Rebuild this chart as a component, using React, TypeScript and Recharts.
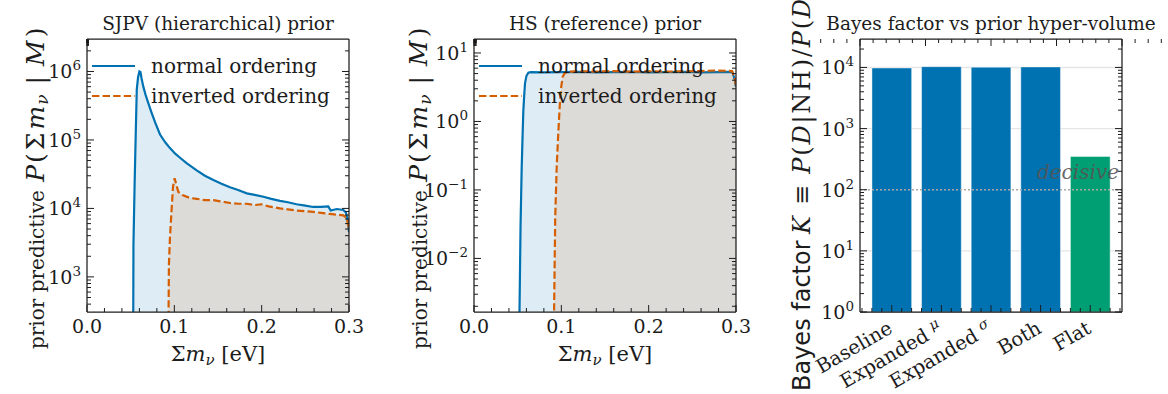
import React from "react";
import { Area, Bar, CartesianGrid, Cell, ComposedChart, Legend, ReferenceLine, XAxis, YAxis } from "recharts";

const SERIF = "'DejaVu Serif', serif";
const SANS = "'DejaVu Sans', sans-serif";
const INK = "#1c1c1c";
const BLUE = "#0072B2";
const ORANGE = "#D55E00";
const GREEN = "#009E73";

// SJPV (hierarchical) prior, x = sum of neutrino masses [eV]
const sjpvNormalX = [0.0528, 0.0532, 0.0545, 0.0558, 0.057, 0.0585, 0.06, 0.0612, 0.0625, 0.0645, 0.067, 0.07, 0.0735, 0.078, 0.0836, 0.09, 0.095, 0.101, 0.1065, 0.114, 0.1256, 0.135, 0.1447, 0.154, 0.1637, 0.173, 0.183, 0.192, 0.202, 0.211, 0.221, 0.23, 0.24, 0.25, 0.259, 0.268, 0.2763, 0.279, 0.286, 0.2935, 0.2965, 0.299, 0.3];
const sjpvNormalY = [60, 3000, 22000, 120000, 550000, 830000, 1000000, 980000, 790000, 600000, 460000, 350000, 260000, 180000, 120000, 91000, 76000, 63000, 55000, 46000, 36000, 30000, 26000, 23000, 20400, 18600, 16600, 15800, 14800, 13800, 12900, 12300, 11500, 11000, 10500, 10500, 10700, 9300, 9800, 9500, 8700, 6300, 4500];
const sjpvInvertedX = [0.093, 0.0938, 0.095, 0.0965, 0.0985, 0.1003, 0.102, 0.1045, 0.11, 0.118, 0.1256, 0.135, 0.1447, 0.154, 0.1637, 0.173, 0.183, 0.192, 0.2, 0.208, 0.221, 0.23, 0.24, 0.25, 0.259, 0.268, 0.278, 0.286, 0.2935, 0.2975, 0.2992, 0.3];
const sjpvInvertedY = [60, 1500, 3800, 8000, 21000, 27500, 23000, 17500, 15500, 14200, 13800, 13200, 13200, 12600, 12000, 11700, 11700, 11200, 11500, 10700, 10000, 9700, 9300, 9100, 8900, 8600, 8300, 8100, 7900, 7200, 5600, 4800];

// HS (reference) prior
const hsNormalX = [0.0517, 0.0521, 0.0533, 0.0546, 0.0556, 0.0565, 0.0575, 0.0584, 0.06, 0.0622, 0.065, 0.08, 0.1, 0.12, 0.14, 0.16, 0.18, 0.2, 0.22, 0.24, 0.26, 0.28, 0.292, 0.296, 0.2985, 0.3];
const hsNormalY = [0.0001, 0.0017, 0.03, 0.21, 0.6, 1.45, 2.4, 3.6, 4.6, 5.15, 5.25, 5.2, 5.25, 5.3, 5.2, 5.25, 5.3, 5.2, 5.25, 5.3, 5.2, 5.25, 5.3, 5.2, 4.1, 3.2];
const hsInvertedX = [0.0913, 0.0917, 0.093, 0.0947, 0.0965, 0.0985, 0.1, 0.1016, 0.104, 0.108, 0.12, 0.14, 0.16, 0.18, 0.2, 0.22, 0.24, 0.26, 0.275, 0.288, 0.2955, 0.2985, 0.3];
const hsInvertedY = [0.0001, 0.0017, 0.04, 0.22, 0.67, 2.0, 3.3, 4.5, 5.1, 5.35, 5.4, 5.35, 5.45, 5.35, 5.4, 5.35, 5.4, 5.45, 5.55, 5.5, 5.45, 4.3, 3.3];

const orderingNames = ["normal ordering", "inverted ordering"];
const orderingColors = [BLUE, ORANGE];
const orderingDash = [undefined, "7.4 3.2"];

// Bayes factor vs prior hyper-volume
const priorNames = ["Baseline", "Expanded", "Expanded", "Both", "Flat"];
const priorSymbols = ["", "μ", "σ", "", ""];
const bayesFactor = [9800, 10300, 10100, 10200, 350];
const barColors = [BLUE, BLUE, BLUE, BLUE, GREEN];
const gridDecades = [1, 10, 1000, 10000];
const decisiveLevel = 100;

const massDomain = [0, 0.3];
const sjpvDomain = [307, 2.98e6];
const hsDomain = [1.65e-3, 16];
const bayesDomain = [1, 2.92e4];
const barPosDomain = [-0.64, 4.64];

const PLOT_W = 262;
const PLOT_TOP = 39;
const PLOT_H = 273;
const CHART_H = 394;
const frame = { stroke: INK, strokeWidth: 1.25 };

function logTicks([lo, hi]: number[]) {
  const out: number[] = [];
  for (let e = Math.floor(Math.log10(lo)); e <= Math.ceil(Math.log10(hi)); e++) {
    for (let k = 1; k < 10; k++) {
      const v = k * Math.pow(10, e);
      if (v >= lo * 0.9999 && v <= hi * 1.0001) out.push(v);
    }
  }
  return out;
}

function linTicks(lo: number, hi: number, step: number) {
  const out: number[] = [];
  for (let v = lo; v <= hi + 1e-9; v += step) out.push(Math.round(v * 1000) / 1000);
  return out;
}

function mergeSeries(nx: number[], ny: number[], ix: number[], iy: number[]) {
  const xs = Array.from(new Set([...nx, ...ix])).sort((a, b) => a - b);
  const n = new Map(nx.map((x, i) => [x, ny[i]]));
  const inv = new Map(ix.map((x, i) => [x, iy[i]]));
  return xs.map((m) => ({ m, no: n.get(m) ?? null, io: inv.get(m) ?? null }));
}

const isDecade = (v: number) => Math.abs(Math.log10(v) - Math.round(Math.log10(v))) < 1e-6;
const isStep = (v: number, step: number) => Math.abs(v / step - Math.round(v / step)) < 1e-6;

function decadeLabel(v: number) {
  const e = Math.round(Math.log10(v));
  return e < 0 ? `−${-e}` : `${e}`;
}

const LeftLogTick = (p: any) => {
  const { x, y, payload } = p;
  const major = isDecade(payload.value);
  return (
    <g>
      <line x1={x} x2={x + (major ? 7 : 4)} y1={y} y2={y} stroke={INK} strokeWidth={1} />
      {major && (
        <text x={x - 6} y={y + 7} textAnchor="end" fontFamily={SERIF} fontSize={19} fill={INK}>
          10<tspan dy={-8} fontSize={13.5}>{decadeLabel(payload.value)}</tspan>
        </text>
      )}
    </g>
  );
};

const RightLogTick = (p: any) => {
  const { x, y, payload } = p;
  const major = isDecade(payload.value);
  return <line x1={x - (major ? 7 : 4)} x2={x} y1={y} y2={y} stroke={INK} strokeWidth={1} />;
};

const MassBottomTick = (p: any) => {
  const { x, y, payload } = p;
  const major = isStep(payload.value, 0.1);
  return (
    <g>
      <line x1={x} x2={x} y1={y} y2={y - (major ? 7 : 4)} stroke={INK} strokeWidth={1} />
      {major && (
        <text x={x} y={y + 21} textAnchor="middle" fontFamily={SERIF} fontSize={19} fill={INK}>
          {payload.value.toFixed(1)}
        </text>
      )}
    </g>
  );
};

const TopTick = (p: any) => {
  const { x, y, payload } = p;
  const major = p.majorStep ? isStep(payload.value, p.majorStep) : true;
  return <line x1={x} x2={x} y1={y} y2={y + (major ? 7 : 4)} stroke={INK} strokeWidth={1} />;
};

const PriorBottomTick = (p: any) => {
  const { x, y, payload } = p;
  const i = Math.round(payload.value);
  const major = isStep(payload.value, 1);
  return (
    <g>
      <line x1={x} x2={x} y1={y} y2={y - (major ? 7 : 4)} stroke={INK} strokeWidth={1} />
      {major && (
        <text
          transform={`translate(${x + 2},${y + 20}) rotate(-30)`}
          textAnchor="end"
          fontFamily={SERIF}
          fontSize={19.5}
          fill={INK}
        >
          {priorNames[i]}
          {priorSymbols[i] ? (
            <tspan dx={6} dy={-7} fontSize={14} fontStyle="italic">
              {priorSymbols[i]}
            </tspan>
          ) : null}
        </text>
      )}
    </g>
  );
};

const Title = ({ cx, text }: { cx: number; text: string }) => (
  <text x={cx} y={30} textAnchor="middle" fontFamily={SERIF} fontSize={18.5} fill={INK}>
    {text}
  </text>
);

const MassLabel = ({ cx }: { cx: number }) => (
  <text x={cx} y={361} textAnchor="middle" fontFamily={SERIF} fontSize={21} fill={INK}>
    Σ<tspan fontStyle="italic">m</tspan>
    <tspan fontStyle="italic" fontSize={15} dy={4}>ν</tspan>
    <tspan dy={-4}>{" [eV]"}</tspan>
  </text>
);

const PredictiveLabel = ({ x }: { x: number }) => (
  <text transform={`translate(${x},349) rotate(-90)`} fontFamily={SERIF} fontSize={20} fill={INK}>
    {"prior predictive "}
    <tspan fontStyle="italic" fontSize={25} dx={2}>P</tspan>
    <tspan fontSize={25} dx={2}>(</tspan>
    <tspan fontSize={25} dx={3}>Σ</tspan>
    <tspan fontStyle="italic" fontSize={25} dx={3}>m</tspan>
    <tspan fontStyle="italic" fontSize={17} dx={1} dy={4}>ν</tspan>
    <tspan fontSize={25} dx={10} dy={-4}>|</tspan>
    <tspan fontStyle="italic" fontSize={25} dx={10}>M</tspan>
    <tspan fontSize={25} dx={3}>)</tspan>
  </text>
);

const BayesLabel = ({ x }: { x: number }) => (
  <g>
    <text transform={`translate(${x},391) rotate(-90)`} fontFamily={SANS} fontSize={24} fill={INK}>
      Bayes factor
    </text>
    <text transform={`translate(${x},234) rotate(-90)`} fontFamily={SERIF} fontSize={24} fill={INK} textLength={290} lengthAdjust="spacing">
      <tspan fontStyle="italic">K</tspan>
      {" ≡ "}
      <tspan fontStyle="italic">P</tspan>
      {"("}
      <tspan fontStyle="italic">D</tspan>
      {"|NH)/"}
      <tspan fontStyle="italic">P</tspan>
      {"("}
      <tspan fontStyle="italic">D</tspan>
      {"|IH)"}
    </text>
  </g>
);

const OrderingLegend = () => (
  <svg width={280} height={64} style={{ display: "block", overflow: "visible" }}>
    {orderingNames.map((name, i) => (
      <g key={name}>
        <line x1={0} x2={43} y1={12 + 30 * i} y2={12 + 30 * i} stroke={orderingColors[i]} strokeWidth={2.2} strokeDasharray={orderingDash[i]} />
        <text x={59} y={18.5 + 30 * i} fontFamily={SERIF} fontSize={20} fill={INK}>
          {name}
        </text>
      </g>
    ))}
  </svg>
);

const DecisiveLabel = (p: any) => {
  const vb = p.viewBox || { x: 100, y: 151, width: PLOT_W };
  return (
    <text x={vb.x + vb.width - 3} y={vb.y - 11} textAnchor="end" fontFamily={SERIF} fontStyle="italic" fontSize={20} fill="#555" fillOpacity={0.9}>
      decisive
    </text>
  );
};

// Axes take the whole space around the plot so their lines sit on the frame.
function axisSizes(W: number, plotLeft: number) {
  return {
    left: plotLeft,
    right: W - plotLeft - PLOT_W,
    top: PLOT_TOP,
    bottom: CHART_H - PLOT_TOP - PLOT_H,
  };
}

function PriorPanel({ left, plotLeft, labelX, title, data, domain }: any) {
  const W = 380;
  const s = axisSizes(W, plotLeft);
  const yTicks = logTicks(domain);
  const xTicks = linTicks(0, 0.3, 0.02);
  const cx = plotLeft + PLOT_W / 2;
  return (
    <div style={{ position: "absolute", left, top: 0 }}>
      <ComposedChart width={W} height={CHART_H} data={data} margin={{ top: 0, left: 0, right: 0, bottom: 0 }}>
        <XAxis dataKey="m" type="number" domain={massDomain} allowDataOverflow ticks={xTicks} interval={0} height={s.bottom} tickSize={0} tickMargin={0} tickLine={false} axisLine={frame} tick={MassBottomTick} label={<MassLabel cx={cx} />} />
        <XAxis xAxisId="top" orientation="top" type="number" domain={massDomain} allowDataOverflow ticks={xTicks} interval={0} height={s.top} tickSize={0} tickMargin={0} tickLine={false} axisLine={frame} tick={(p: any) => <TopTick {...p} majorStep={0.1} />} label={<Title cx={cx} text={title} />} />
        <YAxis type="number" scale="log" domain={domain} allowDataOverflow ticks={yTicks} interval={0} width={s.left} tickSize={0} tickMargin={0} tickLine={false} axisLine={frame} tick={LeftLogTick} label={<PredictiveLabel x={labelX} />} />
        <YAxis yAxisId="right" orientation="right" type="number" scale="log" domain={domain} allowDataOverflow ticks={yTicks} interval={0} width={s.right} tickSize={0} tickMargin={0} tickLine={false} axisLine={frame} tick={RightLogTick} />
        <Area type="linear" dataKey="no" stroke={BLUE} strokeWidth={2.2} fill={BLUE} fillOpacity={0.13} baseValue={domain[0]} connectNulls dot={false} activeDot={false} isAnimationActive={false} />
        <Area type="linear" dataKey="io" stroke={ORANGE} strokeWidth={2.2} strokeDasharray={orderingDash[1]} fill={ORANGE} fillOpacity={0.12} baseValue={domain[0]} connectNulls dot={false} activeDot={false} isAnimationActive={false} />
        <Legend layout="vertical" align="center" verticalAlign="middle" wrapperStyle={{ left: plotLeft + 5, top: 54, width: 280, height: 64 }} content={<OrderingLegend />} />
      </ComposedChart>
    </div>
  );
}

function BayesPanel() {
  const W = 408;
  const plotLeft = 100;
  const s = axisSizes(W, plotLeft);
  const rows = bayesFactor.map((k, i) => ({ pos: i, k }));
  const yTicks = logTicks(bayesDomain);
  const xTicks = linTicks(-0.6, 4.6, 0.2);
  const cx = plotLeft + PLOT_W / 2;
  return (
    <div style={{ position: "absolute", left: 760, top: 0 }}>
      <ComposedChart width={W} height={CHART_H} data={rows} margin={{ top: 0, left: 0, right: 0, bottom: 0 }}>
        <CartesianGrid vertical={false} horizontalValues={gridDecades} stroke="#e6e6e6" strokeWidth={1.4} />
        <XAxis dataKey="pos" type="number" domain={barPosDomain} allowDataOverflow ticks={xTicks} interval={0} height={s.bottom} tickSize={0} tickMargin={0} tickLine={false} axisLine={frame} tick={PriorBottomTick} />
        <XAxis xAxisId="top" orientation="top" type="number" domain={barPosDomain} allowDataOverflow ticks={xTicks} interval={0} height={s.top} tickSize={0} tickMargin={0} tickLine={false} axisLine={frame} tick={(p: any) => <TopTick {...p} majorStep={1} />} label={<Title cx={cx} text="Bayes factor vs prior hyper-volume" />} />
        <YAxis type="number" scale="log" domain={bayesDomain} allowDataOverflow ticks={yTicks} interval={0} width={s.left} tickSize={0} tickMargin={0} tickLine={false} axisLine={frame} tick={LeftLogTick} label={<BayesLabel x={52} />} />
        <YAxis yAxisId="right" orientation="right" type="number" scale="log" domain={bayesDomain} allowDataOverflow ticks={yTicks} interval={0} width={s.right} tickSize={0} tickMargin={0} tickLine={false} axisLine={frame} tick={RightLogTick} />
        <Bar dataKey="k" barSize={39.7} stroke="#ffffff" strokeOpacity={0.45} strokeWidth={1} isAnimationActive={false}>
          {rows.map((r, i) => (
            <Cell key={r.pos} fill={barColors[i]} />
          ))}
        </Bar>
        <ReferenceLine y={decisiveLevel} stroke="#a8a8a8" strokeWidth={1.3} strokeDasharray="2 2" label={<DecisiveLabel />} />
      </ComposedChart>
    </div>
  );
}

export default function App() {
  const sjpv = mergeSeries(sjpvNormalX, sjpvNormalY, sjpvInvertedX, sjpvInvertedY);
  const hs = mergeSeries(hsNormalX, hsNormalY, hsInvertedX, hsInvertedY);
  return (
    <div style={{ position: "absolute", left: 0, top: 0, width: 1168, height: 394, background: "#fff", overflow: "hidden" }}>
      <PriorPanel left={0} plotLeft={87} labelX={32} title="SJPV (hierarchical) prior" data={sjpv} domain={sjpvDomain} />
      <PriorPanel left={380} plotLeft={94} labelX={26} title="HS (reference) prior" data={hs} domain={hsDomain} />
      <BayesPanel />
    </div>
  );
}
